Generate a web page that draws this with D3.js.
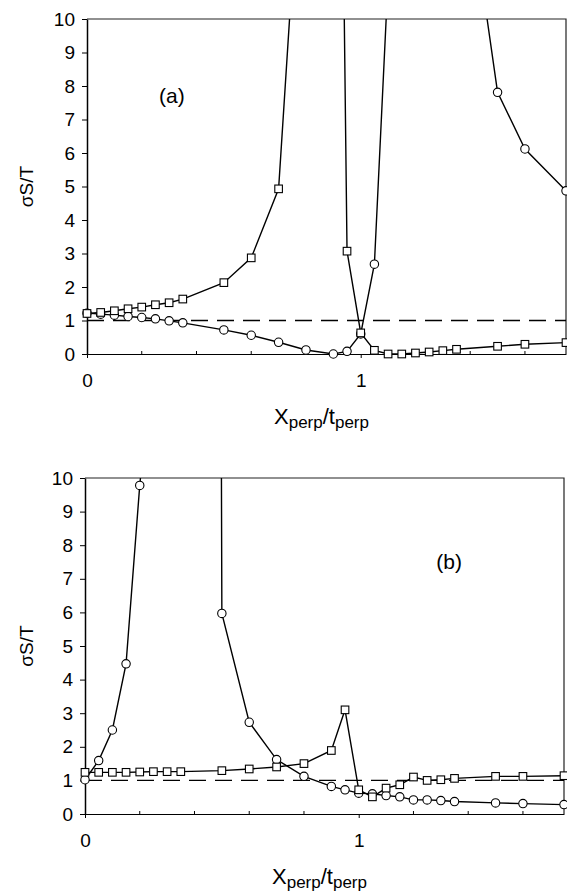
<!DOCTYPE html>
<html>

<head>
    <meta charset="utf-8">
    <script src="https://d3js.org/d3.v7.min.js"></script>
    <style>
        body {
            margin: 0;
            background: #fff;
        }

        text {
            font-family: "Liberation Sans", Arial, sans-serif;
            fill: #000;
        }
    </style>
</head>

<body>
    <div id="my_dataviz"></div>

    <script>
        // panel (a) : squares
        var xSqA = [0, 0.05, 0.1, 0.15, 0.2, 0.25, 0.3, 0.35, 0.5, 0.6, 0.7, 0.8, 0.9, 0.95, 1.0, 1.05, 1.1, 1.15, 1.2, 1.25, 1.3, 1.35, 1.5, 1.6, 1.75];
        var ySqA = [1.21, 1.24, 1.29, 1.35, 1.40, 1.47, 1.53, 1.64, 2.13, 2.87, 4.93, 17.6, 37.7, 3.07, 0.63, 0.11, 0.0, 0.0, 0.03, 0.06, 0.10, 0.14, 0.23, 0.29, 0.34];
        // panel (a) : circles
        var xCiA = [0, 0.05, 0.1, 0.15, 0.2, 0.25, 0.3, 0.35, 0.5, 0.6, 0.7, 0.8, 0.9, 0.95, 1.0, 1.05, 1.1, 1.35, 1.5, 1.6, 1.75];
        var yCiA = [1.22, 1.19, 1.16, 1.12, 1.09, 1.05, 0.99, 0.93, 0.72, 0.56, 0.35, 0.12, 0.0, 0.08, 0.6, 2.68, 11.2, 16.4, 7.81, 6.12, 4.87];

        // panel (b) : squares
        var xSqB = [0, 0.05, 0.1, 0.15, 0.2, 0.25, 0.3, 0.35, 0.5, 0.6, 0.7, 0.8, 0.9, 0.95, 1.0, 1.05, 1.1, 1.15, 1.2, 1.25, 1.3, 1.35, 1.5, 1.6, 1.75];
        var ySqB = [1.24, 1.24, 1.24, 1.24, 1.25, 1.26, 1.26, 1.26, 1.29, 1.34, 1.40, 1.50, 1.89, 3.10, 0.72, 0.51, 0.77, 0.87, 1.10, 1.00, 1.02, 1.06, 1.12, 1.12, 1.14];
        // panel (b) : circles
        var xCiB = [0, 0.05, 0.1, 0.15, 0.2, 0.25, 0.35, 0.5, 0.6, 0.7, 0.8, 0.9, 0.95, 1.0, 1.05, 1.1, 1.15, 1.2, 1.25, 1.3, 1.35, 1.5, 1.6, 1.75];
        var yCiB = [1.02, 1.59, 2.50, 4.47, 9.78, 14, 400, 5.97, 2.73, 1.62, 1.12, 0.82, 0.72, 0.62, 0.60, 0.55, 0.51, 0.42, 0.42, 0.40, 0.37, 0.33, 0.31, 0.28];

        // ticks
        var yTicks = [0, 1, 2, 3, 4, 5, 6, 7, 8, 9, 10];
        var xMinorTicks = [0.2, 0.4, 0.6, 0.8, 1.2, 1.4, 1.6];
        var xLabelTicks = [0, 1];
        var refLine = 1;

        var W = 567,
            H = 895;

        var svg = d3.select("#my_dataviz")
            .append("svg")
            .attr("width", W)
            .attr("height", H);

        function zip(xs, ys) {
            return xs.map(function(x, i) {
                return {
                    x: x,
                    y: ys[i]
                };
            });
        }

        // one panel
        function drawPanel(id, left, top, width, height, circles, squares, tag, tagX, tagY) {
            var g = svg.append("g")
                .attr("transform", "translate(" + left + "," + top + ")");

            var x = d3.scaleLinear().domain([0, 1.75]).range([0, width]);
            var y = d3.scaleLinear().domain([0, 10]).range([height, 0]);

            g.append("clipPath").attr("id", id)
                .append("rect")
                .attr("x", 0).attr("y", 0)
                .attr("width", width).attr("height", height);

            // frame on top and right
            g.append("path")
                .attr("d", "M0,0H" + width + "V" + height)
                .attr("fill", "none")
                .attr("stroke", "#222")
                .attr("stroke-width", 1.2);

            // y axis
            var yAxis = g.append("g")
                .call(d3.axisLeft(y).tickValues(yTicks).tickFormat(d3.format("d")).tickSize(5).tickSizeOuter(0).tickPadding(7));
            yAxis.selectAll("text").style("font-size", "19px");
            yAxis.select(".domain").attr("stroke-width", 1.5);

            // x axis
            var xAxis = g.append("g")
                .attr("transform", "translate(0," + height + ")")
                .call(d3.axisBottom(x).tickValues(xLabelTicks).tickFormat(d3.format("d")).tickSize(4).tickSizeOuter(0).tickPadding(16));
            xAxis.selectAll("text").style("font-size", "19px");
            xAxis.select(".domain").attr("stroke-width", 1.2);

            g.append("g")
                .selectAll("line")
                .data(xMinorTicks)
                .enter()
                .append("line")
                .attr("x1", function(d) { return x(d); })
                .attr("x2", function(d) { return x(d); })
                .attr("y1", height)
                .attr("y2", height - 3)
                .attr("stroke", "#000");

            // dashed reference
            g.append("line")
                .attr("x1", 0).attr("x2", width)
                .attr("y1", y(refLine)).attr("y2", y(refLine))
                .attr("stroke", "#000")
                .attr("stroke-width", 1.3)
                .attr("stroke-dasharray", "17,9");

            var line = d3.line()
                .x(function(d) { return x(d.x); })
                .y(function(d) { return y(d.y); });

            var plot = g.append("g").attr("clip-path", "url(#" + id + ")");

            plot.append("path").datum(circles)
                .attr("d", line)
                .attr("fill", "none")
                .attr("stroke", "#000")
                .attr("stroke-width", 1.4);

            plot.append("path").datum(squares)
                .attr("d", line)
                .attr("fill", "none")
                .attr("stroke", "#000")
                .attr("stroke-width", 1.4);

            // markers (not clipped so edge points stay whole)
            g.append("g")
                .selectAll("circle")
                .data(circles.filter(function(d) { return d.y <= 10; }))
                .enter()
                .append("circle")
                .attr("cx", function(d) { return x(d.x); })
                .attr("cy", function(d) { return y(d.y); })
                .attr("r", 4.2)
                .attr("fill", "#fff")
                .attr("stroke", "#000")
                .attr("stroke-width", 1.1);

            g.append("g")
                .selectAll("rect")
                .data(squares.filter(function(d) { return d.y <= 10; }))
                .enter()
                .append("rect")
                .attr("x", function(d) { return x(d.x) - 3.8; })
                .attr("y", function(d) { return y(d.y) - 3.8; })
                .attr("width", 7.6)
                .attr("height", 7.6)
                .attr("fill", "#fff")
                .attr("stroke", "#000")
                .attr("stroke-width", 1.1);

            // panel tag
            g.append("text")
                .attr("x", x(tagX))
                .attr("y", y(tagY))
                .attr("text-anchor", "middle")
                .style("font-size", "21px")
                .text(tag);

            // y title
            g.append("text")
                .attr("transform", "translate(" + (33 - left) + "," + (height / 2) + ") rotate(-90)")
                .attr("text-anchor", "middle")
                .style("font-size", "19px")
                .text("σS/T");

            // x title
            var t = g.append("text")
                .attr("x", width / 2 - 5)
                .attr("y", height + 70)
                .attr("text-anchor", "middle")
                .style("font-size", "22px");
            t.append("tspan").text("X");
            t.append("tspan").attr("dy", 4).style("font-size", "17px").text("perp");
            t.append("tspan").attr("dy", -4).text("/t");
            t.append("tspan").attr("dy", 4).style("font-size", "17px").text("perp");
        }

        drawPanel("clipA", 87, 19, 479, 335, zip(xCiA, yCiA), zip(xSqA, ySqA), "(a)", 0.31, 7.5);
        drawPanel("clipB", 85, 478, 479, 336, zip(xCiB, yCiB), zip(xSqB, ySqB), "(b)", 1.33, 7.3);
    </script>
</body>

</html>
